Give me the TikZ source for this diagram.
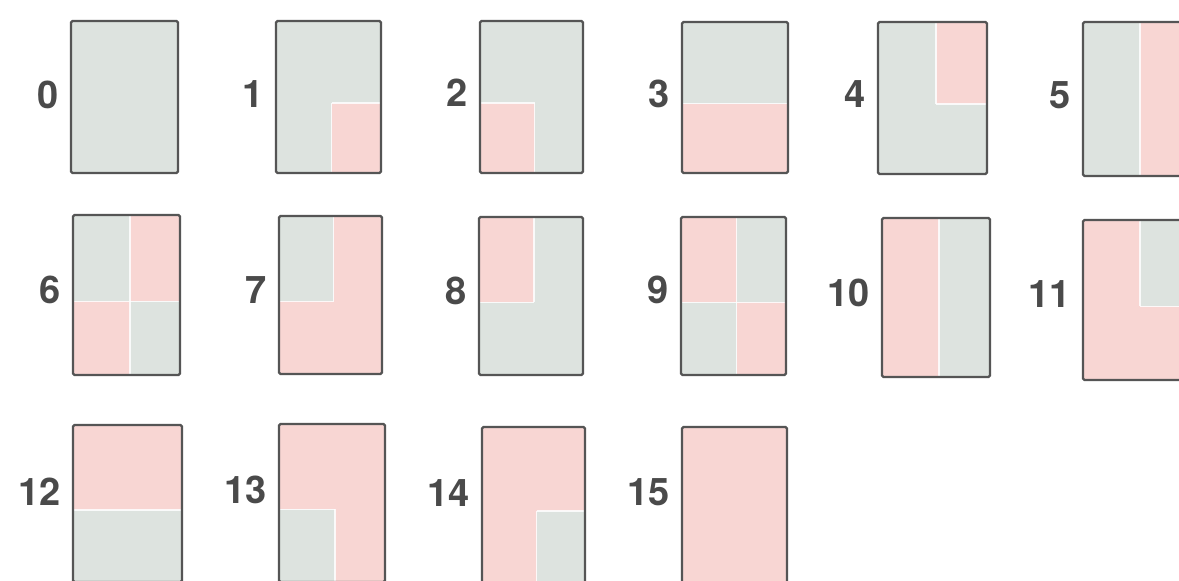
\documentclass[tikz,border=0pt]{standalone}
\usepackage{fontspec}
\setmainfont{TeX Gyre Heros}
\definecolor{cellgrey}{HTML}{DDE3DF}
\definecolor{cellpink}{HTML}{F8D6D3}
\definecolor{rim}{HTML}{555555}
\definecolor{numcol}{HTML}{4A4A4A}
\tikzset{
  cellbox/.style={draw=rim, line width=2.2pt, rounded corners=1.5pt, rectangle, inner sep=0pt},
  numlabel/.style={text=numcol, font=\bfseries\fontsize{38}{38}\selectfont, inner sep=0pt, anchor=east},
  seam/.style={draw=white, line width=1.6pt, opacity=0.85}
}
\begin{document}
\begin{tikzpicture}[x=1pt,y=-1pt]
\useasboundingbox (0,0) rectangle (1179,581);
\clip (0,0) rectangle (1179,581);
\fill[white] (0,0) rectangle (1179,581);
\foreach \n/\bx/\by/\bw/\bh/\ly in {
  0/71/21/107/152/2, 1/276/21/105/152/3, 2/480/21/103/152/4, 3/682/22/106/151/4,
  4/878/22/109/152/4, 5/1083/22/107/154/4,
  6/73/215/107/160/5, 7/279/216/103/158/5, 8/479/217/104/158/5, 9/681/217/105/158/6,
  10/882/218/108/159/5, 11/1083/220/107/160/6,
  12/73/425/109/157/12, 13/279/424/106/158/13, 14/482/427/103/156/12, 15/682/427/105/156/13} {
  \pgfmathtruncatemacro{\tl}{mod(floor(\n/8),2)}
  \pgfmathtruncatemacro{\tr}{mod(floor(\n/4),2)}
  \pgfmathtruncatemacro{\bl}{mod(floor(\n/2),2)}
  \pgfmathtruncatemacro{\br}{mod(\n,2)}
  \pgfmathsetmacro{\sx}{\bx+0.53*\bw}
  \pgfmathsetmacro{\sy}{\by+0.54*\bh}
  \pgfmathsetmacro{\ex}{\bx+\bw}
  \pgfmathsetmacro{\ey}{\by+\bh}
  \ifnum\tl=1 \def\ctl{cellpink}\else\def\ctl{cellgrey}\fi
  \ifnum\tr=1 \def\ctr{cellpink}\else\def\ctr{cellgrey}\fi
  \ifnum\bl=1 \def\cbl{cellpink}\else\def\cbl{cellgrey}\fi
  \ifnum\br=1 \def\cbr{cellpink}\else\def\cbr{cellgrey}\fi
  \fill[\ctl] (\bx,\by) rectangle (\sx,\sy);
  \fill[\ctr] (\sx,\by) rectangle (\ex,\sy);
  \fill[\cbl] (\bx,\sy) rectangle (\sx,\ey);
  \fill[\cbr] (\sx,\sy) rectangle (\ex,\ey);
  \ifnum\tl=\bl\else \draw[seam] (\bx,\sy) -- (\sx,\sy); \fi
  \ifnum\tr=\br\else \draw[seam] (\sx,\sy) -- (\ex,\sy); \fi
  \ifnum\tl=\tr\else \draw[seam] (\sx,\by) -- (\sx,\sy); \fi
  \ifnum\bl=\br\else \draw[seam] (\sx,\sy) -- (\sx,\ey); \fi
  \node[cellbox, minimum width=\bw pt, minimum height=\bh pt] (b\n) at (\bx+\bw/2,\by+\bh/2) {};
  \node[numlabel] (l\n) at ([xshift=-11pt,yshift=\ly pt]b\n.west) {\n};
}
\end{tikzpicture}
\end{document}
